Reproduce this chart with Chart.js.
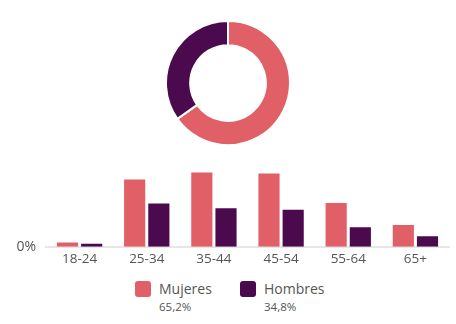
<!DOCTYPE html>
<html>
<head>
<meta charset="utf-8">
<script src="https://cdn.jsdelivr.net/npm/chart.js@4"></script>
<style>
  body { margin: 0; background: #fff; font-family: "Open Sans", sans-serif; }
  #wrap { position: relative; width: 456px; height: 324px; }
  #donutBox { position: absolute; left: 165px; top: 20px; width: 126px; height: 126px; }
  #barBox { position: absolute; left: 0; top: 149px; width: 456px; height: 114px; }
  .leg { position: absolute; top: 281px; color: #555; }
  .sw { position: absolute; left: 0; top: 0; width: 16px; height: 16px; border-radius: 3px; }
  .name { position: absolute; left: 24px; top: -2px; font-size: 14px; white-space: nowrap; }
  .pct { position: absolute; left: 24px; top: 18px; font-size: 11.5px; white-space: nowrap; }
</style>
</head>
<body>
<div id="wrap">
  <div id="donutBox"><canvas id="donut"></canvas></div>
  <div id="barBox"><canvas id="bars"></canvas></div>
  <div id="legend"></div>
</div>
<script>
const ageGroups = ["18-24", "25-34", "35-44", "45-54", "55-64", "65+"];
const mujeres = [1.0, 15.4, 17.0, 16.8, 10.0, 5.0];
const hombres = [0.7, 9.9, 8.8, 8.5, 4.5, 2.4];
const genders = ["Mujeres", "Hombres"];
const totals = [65.2, 34.8];
const colors = ["#e15f66", "#4b0a4e"];

// donut
new Chart(document.getElementById("donut"), {
  type: "doughnut",
  data: {
    labels: genders,
    datasets: [{ data: totals, backgroundColor: colors, borderColor: "#fff", borderWidth: 2 }],
  },
  options: {
    responsive: true,
    maintainAspectRatio: false,
    animation: false,
    cutout: "61%",
    plugins: { legend: { display: false }, tooltip: { enabled: false } },
  },
});

// bars
new Chart(document.getElementById("bars"), {
  type: "bar",
  data: {
    labels: ageGroups,
    datasets: [
      { label: genders[0], data: mujeres, backgroundColor: colors[0] },
      { label: genders[1], data: hombres, backgroundColor: colors[1] },
    ],
  },
  options: {
    responsive: true,
    maintainAspectRatio: false,
    animation: false,
    categoryPercentage: 0.72,
    barPercentage: 0.875,
    layout: { padding: { right: 7, top: 0, bottom: 0 } },
    plugins: { legend: { display: false }, tooltip: { enabled: false } },
    scales: {
      x: {
        grid: { display: false },
        border: { color: "#e6e6e6", width: 2 },
        ticks: { color: "#555", font: { family: "Open Sans", size: 13.5 }, padding: -4 },
      },
      y: {
        min: 0,
        max: 20,
        grid: { display: false },
        border: { display: false },
        afterFit: (s) => { s.width = 46; },
        ticks: {
          color: "#555",
          font: { family: "Open Sans", size: 14 },
          padding: 2,
          stepSize: 20,
          callback: (v) => (v === 0 ? "0%" : ""),
        },
      },
    },
  },
});

// legend
const legend = document.getElementById("legend");
const legX = [135, 240];
genders.forEach((g, i) => {
  const d = document.createElement("div");
  d.className = "leg";
  d.style.left = legX[i] + "px";
  d.innerHTML = '<div class="sw" style="background:' + colors[i] + '"></div>' +
    '<div class="name">' + g + '</div>' +
    '<div class="pct">' + totals[i].toFixed(1).replace(".", ",") + '%</div>';
  legend.appendChild(d);
});
</script>
</body>
</html>
